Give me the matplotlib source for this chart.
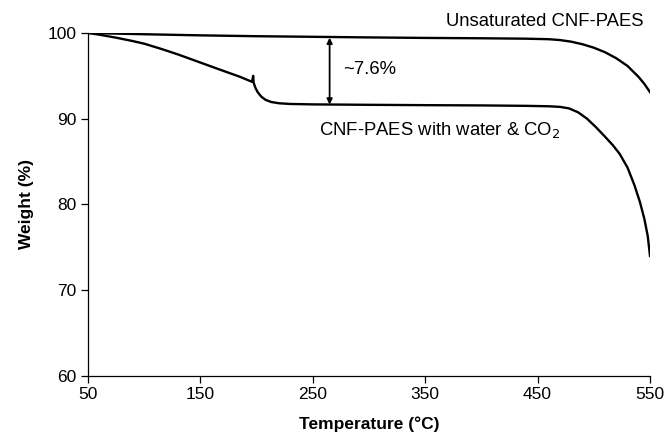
import matplotlib.pyplot as plt

plt.rcParams['font.family'] = ['Liberation Sans', 'DejaVu Sans']

# Unsaturated CNF-PAES
temp_dry = [50, 100, 150, 200, 250, 300, 350, 400, 440, 460, 470, 480, 490, 500, 510,
            520, 530, 540, 545, 550]
weight_dry = [100, 99.85, 99.72, 99.62, 99.55, 99.48, 99.42, 99.38, 99.33, 99.27, 99.17, 98.98,
              98.68, 98.28, 97.75, 97.05, 96.15, 94.85, 94.05, 93.1]

# CNF-PAES with water & CO2
temp_wet = [50, 60, 75, 90, 100, 115, 130, 150, 170, 185, 196, 197, 197.4, 199, 201, 204,
            208, 213, 220, 230, 250, 300, 350, 400, 440, 460, 470, 478, 486, 494, 502,
            510, 517, 523, 530, 536, 541, 545, 548, 550]
weight_wet = [100, 99.8, 99.45, 99.05, 98.75, 98.15, 97.5, 96.55, 95.6, 94.9, 94.3, 95.0, 94.2,
              93.6, 93.1, 92.6, 92.2, 91.95, 91.8, 91.72, 91.67, 91.62, 91.58, 91.55, 91.5,
              91.45, 91.38, 91.2, 90.75, 90.0, 89.0, 87.9, 86.9, 85.9, 84.3, 82.3, 80.3,
              78.3, 76.3, 74.0]

fig = plt.figure(figsize=(6.66, 4.37), dpi=100)
ax = fig.add_axes([0.132, 0.1396, 0.844, 0.785])

ax.plot(temp_dry, weight_dry, color='black', lw=1.7)
ax.plot(temp_wet, weight_wet, color='black', lw=1.7)

ax.set_xlim(50, 550)
ax.set_ylim(60, 100)
ax.set_xticks([50, 150, 250, 350, 450, 550])
ax.set_yticks([60, 70, 80, 90, 100])

for s in ['top', 'right']:
    ax.spines[s].set_visible(False)
for s in ['left', 'bottom']:
    ax.spines[s].set_linewidth(0.9)
ax.tick_params(direction='out', length=5, width=0.9, labelsize=12.5, pad=3)

ax.set_xlabel('Temperature (°C)', fontsize=12.5, fontweight='bold', labelpad=10)
ax.set_ylabel('Weight (%)', fontsize=12.5, fontweight='bold', labelpad=10)

# ~7.6% arrow
ax.annotate('', xy=(265, 99.45), xytext=(265, 91.65),
            arrowprops=dict(arrowstyle='<|-|>', color='black', lw=1.3,
                            mutation_scale=8, shrinkA=0, shrinkB=0))
ax.text(277, 95.7, '~7.6%', fontsize=13.3, va='center')

ax.text(544, 101.3, 'Unsaturated CNF-PAES', fontsize=13.3, ha='right', va='center', clip_on=False)
ax.text(256, 88.7, 'CNF-PAES with water & CO$_2$', fontsize=13.3, ha='left', va='center')

fig.savefig('out.png', dpi=100)
